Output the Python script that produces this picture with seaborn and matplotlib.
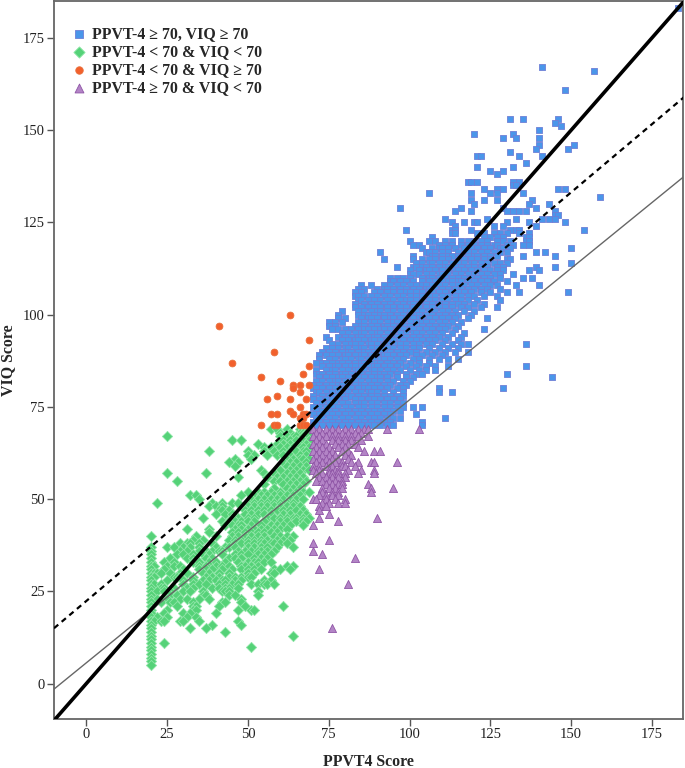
"Scatter of VIQ against PPVT-4 with four cut-off groups and three lines"

import pandas as pd
import matplotlib
matplotlib.use('Agg')
import matplotlib.pyplot as plt
import seaborn as sns

# each row is (VIQ, [PPVT scores at that VIQ])
blue_rows = [
    (183, [183]), (167, [141]), (166, [157]), (161, [148]), (153, [131, 135, 146]), (152, [145]), (151, [147]),
    (150, [140]), (149, [120, 132]), (148, [129, 133, 140]), (146, [140, 151]), (145, [139, 149]), (144, [131]),
    (143, [121, 122, 134, 141]), (141, [136]), (140, [121, 132]), (139, [125, 129]), (138, [127]),
    (136, [118, 119, 121, 132, 134]), (135, [132, 133]), (134, [123, 127, 129, 146, 148]),
    (133, [106, 119, 125, 127, 135]), (132, [159]), (131, [119, 123, 127, 138]), (130, [120, 137, 143]),
    (129, [97, 116, 129, 139]), (128, [114, 119, 130, 132, 134, 136, 145]), (127, [145, 146]),
    (126, [111, 124, 133, 141, 143, 145]), (125, [113, 117, 120, 121, 130, 137, 148]), (124, [114, 126, 129, 139]),
    (123, [99, 113, 114, 119, 131, 133, 134, 154]),
    (122, [113, 114, 121, 123, 126, 128, 130, 134, 137]),
    (121, [107, 123, 125, 127, 129, 136, 137]),
    (120, [100, 106, 108, 111, 113, 116, 118, 120, 122, 124, 127, 129, 131, 136, 137]),
    (119, [101, 103, 109, 111, 113, 116, 118, 120, 122, 124, 126, 127, 130, 132, 135, 137]),
    (118, [104, 107, 109, 110, 112, 114, 117, 119, 121, 123, 125, 128, 129, 131, 150]),
    (117, [91, 105, 106, 108, 110, 112, 115, 118, 120, 122, 124, 126, 128, 130, 139, 142]),
    (116, [101, 107, 108, 110, 112, 113, 115, 116, 118, 120, 121, 123, 125, 127, 135, 145]),
    (115, [92, 101, 104, 106, 108, 110, 112, 115, 117, 119, 121, 123, 125, 130, 131]),
    (114, [102, 104, 106, 107, 109, 111, 113, 115, 117, 119, 120, 122, 124, 126, 128, 130, 150]),
    (113, [96, 101, 102, 104, 105, 107, 109, 111, 112, 114, 116, 118, 120, 122, 124, 127, 129, 139, 145]),
    (112, [100, 103, 105, 106, 108, 110, 112, 114, 115, 117, 119, 121, 123, 125, 127, 129, 137, 140]),
    (111, [100, 101, 103, 105, 107, 109, 110, 112, 114, 116, 118, 120, 122, 124, 126, 128, 132]),
    (110, [94, 96, 98, 100, 104, 106, 107, 109, 111, 113, 115, 117, 119, 121, 123, 125, 128, 135, 138]),
    (109, [94, 95, 97, 99, 101, 104, 106, 108, 110, 112, 113, 115, 116, 118, 120, 122, 124, 126, 130]),
    (108, [85, 88, 92, 94, 96, 98, 100, 102, 104, 105, 107, 109, 111, 113, 115, 117, 119, 121, 123, 125, 127, 133, 140]),
    (107, [84, 86, 90, 92, 93, 95, 97, 99, 101, 103, 105, 106, 108, 110, 112, 114, 116, 118, 120, 122, 124, 128]),
    (106, [83, 85, 89, 91, 93, 95, 97, 99, 100, 102, 104, 106, 107, 109, 111, 113, 115, 117, 119, 122, 125, 130, 134, 149]),
    (105, [83, 84, 86, 88, 90, 92, 94, 96, 98, 100, 102, 104, 106, 108, 110, 112, 114, 116, 118, 120, 123, 127]),
    (104, [84, 85, 87, 89, 91, 93, 95, 97, 99, 100, 102, 104, 106, 108, 110, 112, 114, 116, 118, 121, 128]),
    (103, [83, 86, 88, 90, 92, 94, 96, 98, 100, 101, 103, 105, 107, 109, 111, 113, 115, 117, 120, 123]),
    (102, [83, 85, 87, 89, 91, 93, 95, 97, 99, 101, 103, 105, 107, 109, 111, 113, 116, 118, 122, 127]),
    (101, [79, 84, 86, 88, 90, 91, 93, 95, 97, 99, 100, 102, 104, 106, 108, 110, 112, 114, 117, 120]),
    (100, [78, 84, 86, 87, 89, 91, 92, 94, 96, 98, 100, 102, 103, 105, 107, 109, 111, 113, 115, 119]),
    (99, [78, 80, 85, 87, 88, 90, 92, 94, 95, 97, 99, 101, 103, 104, 106, 108, 110, 112, 114, 118, 124]),
    (98, [75, 77, 79, 84, 86, 88, 89, 91, 93, 95, 96, 98, 100, 102, 104, 105, 107, 109, 111, 113, 116]),
    (97, [75, 77, 83, 85, 86, 88, 90, 92, 93, 95, 97, 99, 100, 102, 104, 106, 108, 110, 112, 115]),
    (96, [76, 78, 80, 82, 84, 86, 87, 89, 91, 92, 94, 96, 98, 100, 101, 103, 105, 107, 109, 111, 114, 123]),
    (95, [79, 81, 83, 85, 86, 88, 90, 91, 93, 95, 97, 99, 101, 102, 104, 106, 108, 110, 113, 117]),
    (94, [74, 78, 80, 82, 84, 85, 87, 89, 90, 92, 94, 96, 98, 99, 101, 103, 105, 107, 109, 112, 116]),
    (93, [75, 79, 81, 83, 84, 86, 88, 89, 91, 93, 95, 97, 98, 100, 102, 104, 106, 108, 111, 115]),
    (92, [76, 78, 80, 82, 83, 85, 87, 88, 90, 92, 94, 96, 97, 99, 101, 103, 105, 107, 110, 113, 116, 118, 136]),
    (91, [74, 76, 78, 80, 81, 83, 85, 86, 88, 90, 92, 93, 95, 97, 99, 101, 103, 106, 109, 112, 115]),
    (90, [73, 75, 77, 79, 81, 82, 84, 86, 87, 89, 91, 93, 94, 96, 98, 100, 102, 105, 108, 111, 114, 118]),
    (89, [72, 74, 76, 78, 80, 81, 83, 85, 86, 88, 90, 92, 93, 95, 97, 99, 102, 104, 107, 110]),
    (88, [72, 75, 77, 79, 80, 82, 84, 85, 87, 89, 91, 92, 94, 96, 98, 101, 103, 106, 109, 112, 115]),
    (87, [71, 73, 74, 76, 78, 79, 81, 83, 85, 86, 88, 90, 91, 93, 95, 97, 100, 103, 106]),
    (86, [73, 75, 77, 78, 80, 82, 83, 85, 87, 89, 90, 92, 94, 96, 99, 102, 105, 108, 112, 136]),
    (85, [71, 74, 76, 77, 79, 81, 83, 84, 86, 88, 89, 91, 93, 95, 97, 100, 103, 105, 108]),
    (84, [71, 72, 73, 75, 77, 79, 80, 82, 84, 85, 87, 89, 91, 92, 94, 96, 99, 102, 104, 130]),
    (83, [72, 74, 76, 78, 79, 81, 83, 84, 86, 88, 90, 91, 93, 96, 99, 101, 144]),
    (82, [71, 73, 75, 77, 78, 80, 82, 83, 85, 87, 89, 91, 93, 95, 98, 100]),
    (81, [70, 72, 74, 76, 78, 79, 81, 83, 85, 86, 88, 90, 92, 94, 97, 99]),
    (80, [70, 71, 73, 75, 77, 79, 80, 82, 84, 86, 87, 89, 91, 93, 96, 98, 109, 129]),
    (79, [71, 72, 74, 76, 78, 80, 81, 83, 85, 87, 88, 90, 92, 95, 98, 109, 113]),
    (78, [70, 73, 75, 77, 79, 81, 82, 84, 86, 88, 90, 92, 94, 96, 98]),
    (77, [70, 72, 74, 76, 78, 80, 83, 85, 87, 89, 91, 93, 95, 97]),
    (76, [71, 73, 75, 77, 79, 81, 83, 85, 86, 88, 90, 92, 94, 96, 98]),
    (75, [70, 72, 74, 76, 78, 80, 82, 84, 86, 88, 90, 92, 94, 96, 98, 101, 104]),
    (74, [71, 73, 75, 77, 79, 81, 83, 85, 87, 89, 91, 93, 95, 97]),
    (73, [70, 72, 74, 76, 78, 80, 82, 84, 86, 88, 90, 92, 94, 102]),
    (72, [71, 73, 75, 77, 79, 81, 83, 85, 87, 89, 91, 93, 95, 97, 111]),
    (71, [70, 72, 74, 76, 78, 80, 82, 84, 86, 88, 90, 92, 94, 104]),
    (70, [70, 71, 73, 75, 77, 79, 81, 83, 85, 87, 89, 91, 93, 95, 104]),
]

green_rows = [
    (69, [57, 59, 62, 66, 67, 68]), (68, [60, 63, 66, 67, 68]), (67, [25, 60, 62, 64, 65, 67, 68, 69]),
    (66, [45, 48, 61, 63, 65, 67, 69]), (65, [53, 59, 61, 63, 66, 68]), (64, [55, 57, 60, 62, 64, 66, 67, 69]),
    (63, [38, 50, 55, 58, 61, 63, 65, 67, 68]), (62, [50, 52, 56, 59, 61, 63, 66, 68]),
    (61, [46, 51, 62, 64, 66, 67, 69]), (60, [44, 47, 61, 63, 65, 68]), (59, [46, 62, 64, 66, 68]),
    (58, [54, 60, 63, 65, 67, 69]), (57, [25, 37, 55, 58, 62, 64, 66]), (56, [47, 56, 59, 61, 63, 65, 67]),
    (55, [28, 58, 60, 62, 64, 66, 68]), (54, [55, 61, 63, 65, 67]), (53, [58, 62, 64, 66]),
    (52, [50, 53, 55, 57, 60, 63, 65, 67, 69]), (51, [32, 34, 48, 52, 54, 56, 58, 60, 62, 64, 66]),
    (50, [35, 51, 53, 55, 57, 59, 61, 63, 65, 67]), (49, [22, 39, 42, 45, 47, 50, 52, 54, 56, 58, 60, 62, 64]),
    (48, [38, 40, 42, 50, 52, 54, 56, 58, 60, 62, 64, 66]), (47, [41, 42, 44, 49, 51, 53, 55, 57, 59, 61, 63, 65, 67]),
    (46, [40, 43, 45, 49, 51, 53, 55, 57, 61, 63, 66, 68]), (45, [36, 45, 47, 50, 52, 56, 58, 60, 62, 64, 65, 67, 69]),
    (44, [42, 44, 46, 48, 50, 52, 55, 60, 62, 65, 67, 68]), (43, [43, 45, 47, 48, 51, 54, 57, 59, 61, 63, 67]),
    (42, [31, 38, 46, 48, 50, 52, 54, 56, 58, 60, 62]), (41, [38, 45, 47, 49, 51, 53, 55, 57, 59]),
    (40, [20, 34, 40, 45, 47, 49, 51, 53, 55, 58, 60, 62, 64]), (39, [33, 36, 44, 46, 48, 50, 52, 54, 56, 59, 61, 63]),
    (38, [29, 31, 32, 35, 39, 46, 48, 50, 52, 54, 55, 57, 58, 60, 62]),
    (37, [20, 25, 27, 30, 32, 35, 40, 43, 44, 46, 50, 52, 54, 56, 59, 64]),
    (36, [20, 29, 31, 35, 37, 39, 41, 42, 47, 49, 51, 53, 54, 56, 58]),
    (35, [20, 28, 30, 33, 36, 38, 42, 46, 48, 50, 53, 55, 57]), (34, [20, 26, 31, 33, 37, 39, 44, 46, 48, 52, 54, 56]),
    (33, [20, 24, 27, 33, 35, 38, 40, 43, 47, 50, 52, 53, 55, 57]),
    (32, [20, 21, 25, 27, 29, 35, 37, 40, 42, 44, 48, 49, 51, 53, 62, 64]),
    (31, [20, 24, 30, 35, 37, 39, 42, 45, 48, 50, 52, 54, 58, 60, 63]),
    (30, [20, 21, 22, 23, 26, 29, 31, 36, 38, 41, 44, 50, 52, 57, 58]),
    (29, [20, 21, 27, 28, 29, 33, 37, 39, 41, 44, 46, 48, 50, 51]),
    (28, [20, 25, 30, 33, 36, 38, 40, 42, 43, 46, 48, 55, 57]), (27, [20, 21, 23, 30, 33, 35, 37, 41, 43, 45, 47, 51, 53, 55, 56, 58]),
    (26, [20, 23, 24, 27, 31, 33, 39, 41, 43, 44, 47]), (25, [20, 22, 24, 26, 30, 32, 36, 42, 43, 44, 53]),
    (24, [20, 25, 26, 28, 36, 37, 44, 46, 53]), (23, [20, 22, 25, 29, 31, 35, 38, 48]), (22, [20, 23, 26, 27, 33, 42, 43, 48]),
    (21, [20, 28, 33, 34, 41, 49, 61]), (20, [20, 25, 33, 34, 47, 51, 52]), (19, [20, 24, 30, 32, 40]),
    (18, [20, 22, 25, 31, 34]), (17, [20, 21, 23, 24, 29, 30, 35, 47]), (16, [20, 39, 48]), (15, [20, 32, 37]),
    (14, [20, 43]), (13, [20, 64]), (12, [20]), (11, [20, 24]), (10, [20, 51]), (9, [20]), (8, [20]), (7, [20]),
    (6, [20]), (5, [20]),
]

orange_rows = [
    (100, [63]), (97, [41]), (93, [69]), (90, [58]), (87, [45]), (86, [69]), (84, [67]), (83, [54]), (82, [60]),
    (81, [64, 66, 69]), (80, [64]), (79, [66]), (78, [59]), (77, [56, 63, 68]), (75, [66]), (74, [63]),
    (73, [57, 59, 64, 67, 68]), (72, [66, 67]), (70, [54, 58, 59, 66, 67, 68]),
]

purple_rows = [
    (69, [70, 72, 74, 76, 78, 80, 82, 84, 86, 87, 93, 103]), (68, [71, 73, 75, 77, 79, 81, 83, 85]),
    (67, [70, 72, 74, 76, 78, 80, 82, 84, 87]), (66, [71, 73, 76, 78, 80, 82, 85]), (65, [70, 72, 74, 77, 79, 81, 83]),
    (64, [71, 73, 75, 78, 80, 84]), (63, [70, 72, 74, 76, 79, 81, 86, 89, 91]), (62, [71, 73, 75, 77, 80, 82]),
    (61, [70, 72, 74, 76, 78, 81]), (60, [71, 73, 75, 77, 79, 82, 84, 88, 89, 96]),
    (59, [70, 72, 74, 76, 79, 80, 83]), (58, [70, 72, 75, 77, 78, 81, 85, 89]), (57, [71, 73, 75, 76, 78, 80, 84, 89]),
    (56, [72, 74, 76, 78, 80]), (55, [71, 73, 75, 77, 79]), (54, [74, 76, 78, 79, 87]), (53, [73, 75, 77, 79, 88, 95]),
    (52, [73, 76, 78, 88]), (51, [72, 74, 76, 78]), (50, [70, 71, 74, 77, 80]), (49, [73, 75, 78, 80]), (48, [72, 74]),
    (47, [72]), (46, [75]), (45, [72, 90]), (44, [78]), (43, [70]), (39, [75]), (38, [70]), (36, [70]), (35, [73]),
    (34, [83]), (31, [72]), (27, [81]), (15, [76]),
]

group_names = ['PPVT-4 \u2265 70, VIQ \u2265 70', 'PPVT-4 < 70 & VIQ < 70',
               'PPVT-4 < 70 & VIQ \u2265 70', 'PPVT-4 \u2265 70 & VIQ < 70']
x_ticks = [0, 25, 50, 75, 100, 125, 150, 175]
y_ticks = [0, 25, 50, 75, 100, 125, 150, 175]

# the three lines as (x, y) at both ends
thick_x, thick_y = [-10, 185], [-10, 185]
dashed_x, dashed_y = [-10, 185], [15, 159]
thin_x, thin_y = [-10, 185], [-1.5, 137.5]

frames = []
for name, rows in zip(group_names, [blue_rows, green_rows, orange_rows, purple_rows]):
    for viq, scores in rows:
        frames.append(pd.DataFrame({'ppvt': scores, 'viq': viq, 'group': name}))
df = pd.concat(frames, ignore_index=True)

sns.set_style('white')
plt.rcParams['font.family'] = ['Liberation Serif', 'DejaVu Serif']

fig = plt.figure(figsize=(6.85, 7.68), dpi=100)
ax = fig.add_axes([54 / 685, 49 / 768, 629 / 685, 718 / 768])

styles = [('s', '#4a96ea', '#6f7fd6', 24), ('D', '#55d278', '#8fe6a8', 27),
          ('o', '#f2602c', '#e8703c', 24), ('^', '#b384c6', '#8f55a6', 34)]
for name, (marker, fill, edge, size) in zip(group_names, styles):
    sns.scatterplot(data=df[df['group'] == name], x='ppvt', y='viq', marker=marker, color=fill,
                    edgecolor=edge, linewidth=0.6, s=size, label=name, ax=ax, zorder=2)

sns.lineplot(x=thin_x, y=thin_y, color='#666666', lw=1.0, ax=ax, zorder=3)
sns.lineplot(x=dashed_x, y=dashed_y, color='black', lw=1.6, ax=ax, zorder=3, linestyle=(0, (2.5, 2)))
sns.lineplot(x=thick_x, y=thick_y, color='black', lw=2.6, ax=ax, zorder=4)

ax.set_xlim(-10, 184.6)
ax.set_ylim(-9.6, 185)
ax.set_xticks(x_ticks)
ax.set_yticks(y_ticks)
ax.tick_params(direction='out', length=5, width=1, color='#555555', labelsize=10.5, labelcolor='#222222',
               bottom=True, left=True, pad=1.5)
for side in ax.spines.values():
    side.set_color('#666666')
    side.set_linewidth(1.3)

ax.set_xlabel('PPVT4 Score', fontweight='bold', fontsize=11.4, labelpad=9)
ax.set_ylabel('VIQ Score', fontweight='bold', fontsize=11.4, labelpad=5)

leg = ax.legend(loc='upper left', bbox_to_anchor=(-0.005, 0.9875), frameon=False, handletextpad=0.0, handlelength=1.6,
                labelspacing=0.14, prop={'weight': 'bold', 'size': 11.4}, borderpad=0, borderaxespad=1.0,
                markerscale=1.1)

plt.savefig('out.png', dpi=100)
